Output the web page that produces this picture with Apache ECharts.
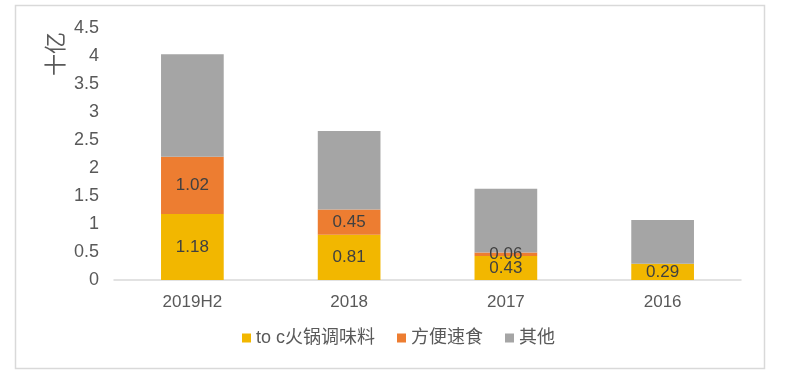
<!DOCTYPE html>
<html><head><meta charset="utf-8">
<script src="https://cdn.jsdelivr.net/npm/echarts@6/dist/echarts.min.js"></script>
<style>html,body{margin:0;padding:0;background:#fff}#c{width:797px;height:382px}</style>
</head><body><div id="c"></div>
<script>
var categories = ['2019H2', '2018', '2017', '2016'];
var seriesNames = ['to c火锅调味料', '方便速食', '其他'];
var hotpot = [1.18, 0.81, 0.43, 0.29];
var instant = [1.02, 0.45, 0.06, null];
var other = [1.83, 1.40, 1.14, 0.78];
var yTicks = [0, 0.5, 1, 1.5, 2, 2.5, 3, 3.5, 4, 4.5];
var yTitle = '十亿';

var FONT = '"Liberation Sans", "Noto Sans CJK SC", sans-serif';
var chart = echarts.init(document.getElementById('c'));
function lbl(show) {
  return {show: show, position: 'inside', color: '#404040', fontSize: 17, fontFamily: FONT,
    formatter: function (p) { return p.value == null ? '' : String(p.value); }};
}
chart.setOption({
  animation: false,
  backgroundColor: '#fff',
  graphic: [
    {type: 'rect', shape: {x: 15.5, y: 5.5, width: 749, height: 363}, style: {fill: 'none', stroke: '#d9d9d9', lineWidth: 1.5}},
    {type: 'text', x: 55, y: 54, rotation: Math.PI / 2, style: {text: yTitle, font: '22px "Noto Sans CJK SC", sans-serif', fill: '#595959', textAlign: 'center', textVerticalAlign: 'middle'}}
  ],
  grid: {left: 114, right: 56, top: 28, bottom: 102},
  legend: {
    bottom: 30, left: 'center', itemWidth: 9, itemHeight: 9, itemGap: 22,
    icon: 'rect',
    textStyle: {color: '#595959', fontSize: 18, fontFamily: FONT},
    data: seriesNames
  },
  xAxis: {
    type: 'category', data: categories,
    axisLine: {lineStyle: {color: '#d9d9d9', width: 1.5}},
    axisTick: {show: false},
    axisLabel: {color: '#595959', fontSize: 17, fontFamily: FONT, margin: 14}
  },
  yAxis: {
    type: 'value', min: 0, max: 4.5, interval: 0.5,
    axisLine: {show: false}, axisTick: {show: false},
    splitLine: {show: false},
    axisLabel: {color: '#595959', fontSize: 18, fontFamily: FONT, margin: 15,
      formatter: function (v) { return String(yTicks[Math.round(v / 0.5)]); }}
  },
  series: [
    {name: seriesNames[0], type: 'bar', stack: 's', barWidth: '40%', data: hotpot, itemStyle: {color: '#F2B700'}, label: lbl(true)},
    {name: seriesNames[1], type: 'bar', stack: 's', data: instant, itemStyle: {color: '#ED7D31'}, label: lbl(true)},
    {name: seriesNames[2], type: 'bar', stack: 's', data: other, itemStyle: {color: '#A5A5A5'}, label: {show: false}}
  ]
});
</script></body></html>
